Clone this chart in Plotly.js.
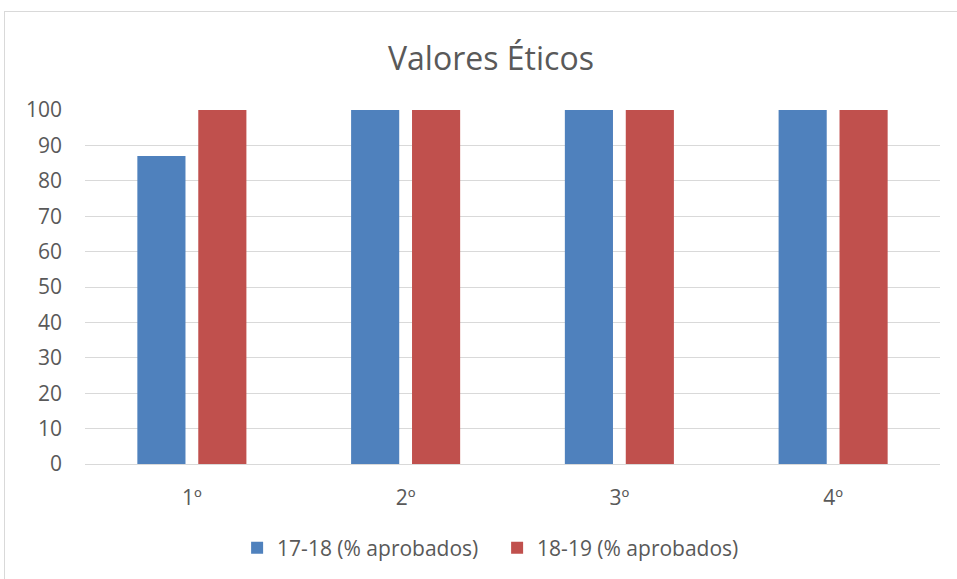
<!DOCTYPE html>
<html>
<head>
<meta charset="utf-8">
<script src="https://cdn.plot.ly/plotly-3.0.1.min.js"></script>
<style>
html,body{margin:0;padding:0;background:#fff;overflow:hidden;}
#chart{position:absolute;left:0;top:0;width:957px;height:579px;}
#frame{position:absolute;left:4px;top:11px;width:960px;height:600px;border:1px solid #d9d9d9;pointer-events:none;}
</style>
</head>
<body>
<div id="chart"></div>
<div id="frame"></div>
<script>
const categories = ["1º", "2º", "3º", "4º"];
const series1Name = "17-18 (% aprobados)";
const series1 = [87, 100, 100, 100];
const series2Name = "18-19 (% aprobados)";
const series2 = [100, 100, 100, 100];
const yTicks = [0, 10, 20, 30, 40, 50, 60, 70, 80, 90, 100];

const font = "Open Sans, Liberation Sans, sans-serif";
const data = [
  {type: "bar", name: series1Name, x: categories, y: series1, marker: {color: "#4F81BD"}},
  {type: "bar", name: series2Name, x: categories, y: series2, marker: {color: "#C0504D"}}
];
const layout = {
  width: 957, height: 579,
  margin: {l: 85, r: 17, t: 110, b: 115, autoexpand: false},
  paper_bgcolor: "#fff", plot_bgcolor: "#fff",
  barmode: "group", bargap: 0.43, bargroupgap: 0.21,
  title: {text: "Valores Éticos", font: {family: font, size: 32, color: "#595959"}, x: 0.513, xanchor: "center", y: 0.898, yanchor: "middle"},
  font: {family: font, color: "#595959", size: 21},
  xaxis: {type: "category", automargin: false, showgrid: false, showline: true, linecolor: "#d9d9d9", linewidth: 1, ticks: "", tickfont: {size: 21, color: "#595959"}, ticklabelstandoff: 15},
  yaxis: {range: [0, 100], automargin: false, tickvals: yTicks, showgrid: true, gridcolor: "#d9d9d9", gridwidth: 1, zeroline: false, showline: false, ticks: "", tickfont: {size: 21, color: "#595959"}, ticklabelstandoff: 22},
  legend: {orientation: "h", x: 0.482, xanchor: "center", y: -0.18, yanchor: "top", font: {size: 21, color: "#595959"}, itemwidth: 30, entrywidth: 215, entrywidthmode: "pixels", traceorder: "normal"},
  showlegend: true
};
Plotly.newPlot("chart", data, layout, {displayModeBar: false, staticPlot: true});
</script>
</body>
</html>
